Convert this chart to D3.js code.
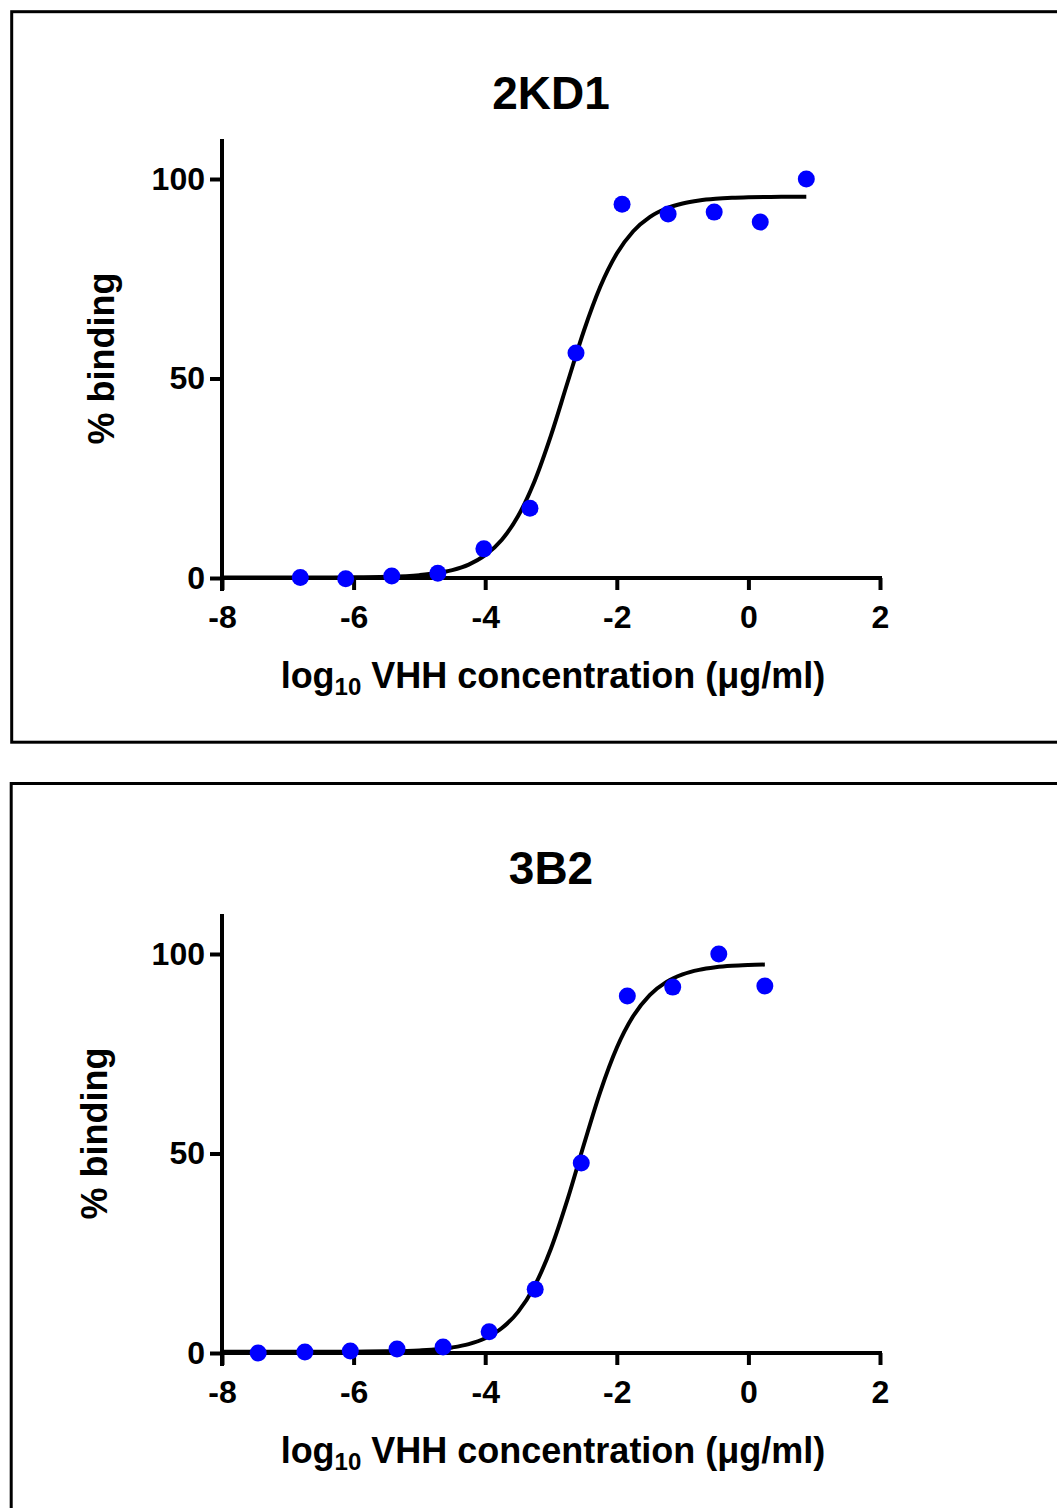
<!DOCTYPE html>
<html><head><meta charset="utf-8">
<script src="https://cdn.jsdelivr.net/npm/d3@7"></script>
<style>
body{margin:0;background:#fff}
svg{display:block}
text{font-family:"Liberation Sans",Arial,Helvetica,sans-serif;font-weight:bold;fill:#000}
</style>
</head><body>
<svg id="c" width="1057" height="1508"></svg>
<script>
// ---- data ----
const panelTitles = ["2KD1", "3B2"];
const xTickValues = [-8, -6, -4, -2, 0, 2];
const yTickValues = [0, 50, 100];
const xLabelMain = "log";
const xLabelSub = "10";
const xLabelRest = " VHH concentration (\u03bcg/ml)";
const yLabel = "% binding";

// 2KD1 measured points (log10 conc, % binding)
const kd1X = [-6.81, -6.12, -5.42, -4.72, -4.02, -3.32, -2.62, -1.92, -1.22, -0.52, 0.18, 0.88];
const kd1Y = [0.1, -0.2, 0.5, 1.2, 7.3, 17.5, 56.4, 93.7, 91.2, 91.7, 89.2, 100];
// 2KD1 fitted curve
const kd1FitX = [-8, -7, -6, -5.5, -5, -4.75, -4.5, -4.25, -4, -3.75, -3.5, -3.25, -3, -2.75, -2.5, -2.25, -2, -1.75, -1.5, -1.25, -1, -0.75, -0.5, -0.25, 0, 0.25, 0.5, 0.88];
const kd1FitY = [0.10, 0.11, 0.17, 0.30, 0.72, 1.18, 1.99, 3.37, 5.71, 9.54, 15.53, 24.27, 35.75, 48.93, 61.97, 73.04, 81.31, 86.91, 90.46, 92.60, 93.87, 94.61, 95.03, 95.28, 95.42, 95.50, 95.54, 95.57];

// 3B2 measured points
const b32X = [-7.45, -6.74, -6.05, -5.34, -4.64, -3.94, -3.24, -2.54, -1.84, -1.15, -0.45, 0.25];
const b32Y = [0.0, 0.25, 0.5, 1.0, 1.5, 5.3, 16.0, 47.6, 89.5, 91.7, 100, 92.0];
// 3B2 fitted curve
const b32FitX = [-8, -7, -6, -5.5, -5, -4.5, -4.25, -4, -3.75, -3.5, -3.25, -3, -2.75, -2.5, -2.25, -2, -1.75, -1.5, -1.25, -1, -0.75, -0.5, -0.25, 0, 0.25];
const b32FitY = [0.30, 0.30, 0.34, 0.41, 0.65, 1.40, 2.24, 3.71, 6.19, 10.31, 16.77, 26.19, 38.43, 52.25, 65.53, 76.51, 84.46, 89.71, 92.96, 94.89, 96.02, 96.66, 97.03, 97.23, 97.35];

const xDomain = [-8, 2];
const yDomain = [0, 110];

// ---- layout ----
const panels = [
  {title: panelTitles[0], px: kd1X, py: kd1Y, fx: kd1FitX, fy: kd1FitY,
   border: [11.7, 11.7, 1100, 730.5], zeroY: 578, titleY: 109, xLblY: 688, yLblX: 114},
  {title: panelTitles[1], px: b32X, py: b32Y, fx: b32FitX, fy: b32FitY,
   border: [11.2, 783.5, 1100, 800], zeroY: 1353, titleY: 884, xLblY: 1463, yLblX: 107}
];

const svg = d3.select("#c");
const left = 222, right = 880, pxPerUnit = 3.99;

panels.forEach(p => {
  const g = svg.append("g");
  g.append("rect")
    .attr("x", p.border[0]).attr("y", p.border[1])
    .attr("width", p.border[2]).attr("height", p.border[3])
    .attr("fill", "none").attr("stroke", "#000").attr("stroke-width", 3);

  const x = d3.scaleLinear().domain(xDomain).range([left, right]);
  const y = d3.scaleLinear().domain(yDomain).range([p.zeroY, p.zeroY - pxPerUnit * yDomain[1]]);

  // title
  g.append("text").attr("x", (left + right) / 2).attr("y", p.titleY)
    .attr("text-anchor", "middle").style("font-size", "46px").text(p.title);

  // x axis
  const xa = g.append("g").attr("transform", `translate(0,${p.zeroY})`)
    .call(d3.axisBottom(x).tickValues(xTickValues).tickFormat(d3.format("d"))
      .tickSize(12).tickSizeOuter(0).tickPadding(15));
  xa.attr("font-family", null).attr("font-size", null);
  xa.select(".domain").attr("stroke-width", 4).attr("d", `M${left - 2},0H${right + 2}`);
  xa.selectAll(".tick line").attr("stroke-width", 4);
  xa.selectAll(".tick text").style("font-size", "32px")
    .text(d => d < 0 ? "-" + Math.abs(d) : d);

  // y axis
  const ya = g.append("g").attr("transform", `translate(${left},0)`)
    .call(d3.axisLeft(y).tickValues(yTickValues).tickFormat(d3.format("d"))
      .tickSize(12).tickSizeOuter(0).tickPadding(5));
  ya.attr("font-family", null).attr("font-size", null);
  ya.select(".domain").attr("stroke-width", 4)
    .attr("d", `M0,${y(yDomain[1])}V${p.zeroY + 13}`);
  ya.selectAll(".tick line").attr("stroke-width", 4).attr("x1", -12).attr("x2", 2);
  ya.selectAll(".tick text").style("font-size", "32px");

  // x axis title
  const xt = g.append("text").attr("x", (left + right) / 2 + 2).attr("y", p.xLblY)
    .attr("text-anchor", "middle").style("font-size", "36px");
  xt.append("tspan").text(xLabelMain);
  xt.append("tspan").attr("dy", 7).style("font-size", "24px").text(xLabelSub);
  xt.append("tspan").attr("dy", -7).text(xLabelRest);

  // y axis title
  const cy = (y(0) + y(100)) / 2 - 20;
  g.append("text").attr("transform", `translate(${p.yLblX},${cy}) rotate(-90)`)
    .attr("text-anchor", "middle").style("font-size", "36px").text(yLabel);

  // fitted curve
  const fit = p.fx.map((v, i) => [v, p.fy[i]]);
  g.append("path").datum(fit)
    .attr("fill", "none").attr("stroke", "#000").attr("stroke-width", 4)
    .attr("stroke-linejoin", "round")
    .attr("d", d3.line().x(d => x(d[0])).y(d => y(d[1])).curve(d3.curveMonotoneX));

  // points
  const pts = p.px.map((v, i) => [v, p.py[i]]);
  g.selectAll("circle.pt").data(pts).enter().append("circle")
    .attr("class", "pt")
    .attr("cx", d => x(d[0])).attr("cy", d => y(d[1])).attr("r", 8.5)
    .attr("fill", "#0000ff");
});
</script>
</body></html>
